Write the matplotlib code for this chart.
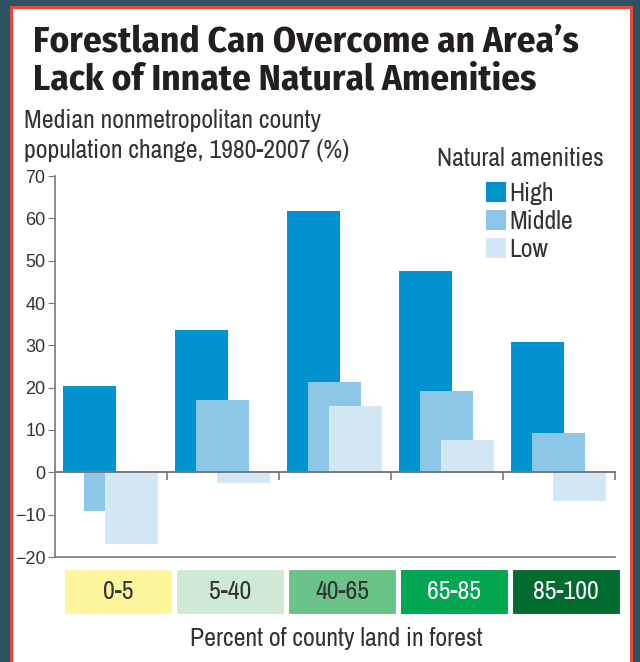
import numpy as np
import matplotlib.pyplot as plt
from matplotlib.patches import Rectangle
from matplotlib import font_manager as fm
import matplotlib.transforms as mtransforms

# Dados
forest_bins = ['0-5', '5-40', '40-65', '65-85', '85-100']
high = [20.4, 33.6, 61.7, 47.6, 30.8]
middle = [-9.1, 17.1, 21.3, 19.2, 9.3]
low = [-16.9, -2.5, 15.7, 7.6, -6.8]
series_names = ['High', 'Middle', 'Low']
bin_colors = ['#fdf59b', '#cfe9d6', '#6bc38a', '#00a650', '#006b2e']
bin_text_colors = ['#333333', '#333333', '#333333', 'white', 'white']
blue_cols = ['#0093d0', '#8dc7e8', '#d3e6f4']

installed = {f.name for f in fm.fontManager.ttflist}


def pick(cands):
    for c in cands:
        if c in installed:
            return [c, 'DejaVu Sans']
    return ['DejaVu Sans']


narrow = pick(['Arial Narrow', 'Liberation Sans Narrow', 'Nimbus Sans Narrow', 'Archivo Narrow',
               'PT Sans Narrow', 'Roboto Condensed', 'Pragati Narrow', 'IBM Plex Sans Condensed',
               'Fira Sans Condensed', 'Open Sans Condensed', 'Encode Sans Condensed'])
title_font = pick(['Fira Sans Condensed', 'PT Sans Narrow', 'Open Sans Condensed', 'Roboto Condensed',
                   'Archivo Narrow', 'Asap Condensed', 'Encode Sans Condensed', 'Liberation Sans Narrow',
                   'Arial Narrow', 'Alegreya Sans'])

fig = plt.figure(figsize=(6.4, 6.62), dpi=100)
fig.patch.set_facecolor('#2e5262')

# painel branco com borda vermelha
panel = Rectangle((11/640, -0.01), 620/640, 1 - 7/662 + 0.01, transform=fig.transFigure,
                  facecolor='white', edgecolor='#e8473b', linewidth=2.2, zorder=-5)
fig.patches.append(panel)

ax = fig.add_axes([55/640, 1 - 557/662, 560/640, 381/662])
ax.set_facecolor('none')
ax.set_xlim(0, 5)
ax.set_ylim(-20, 70)

x = np.arange(len(forest_bins)) + 0.5
w = 53/112
off = 21/112
bars = []
for i, (vals, name) in enumerate(zip([high, middle, low], series_names)):
    b = ax.bar(x + (i - 1) * off - 1/112, vals, width=w, color=blue_cols[i],
               label=name, zorder=2 + i)
    bars.append(b)

# eixos
for s in ['top', 'right']:
    ax.spines[s].set_visible(False)
for s in ['left', 'bottom']:
    ax.spines[s].set_color('#777777')
    ax.spines[s].set_linewidth(1.2)
ax.set_xticks([])
ax.set_yticks(np.arange(-20, 71, 10))
ax.tick_params(axis='y', direction='out', length=5, color='#777777',
               labelsize=13, labelcolor='#333333', pad=2)
for lab in ax.get_yticklabels():
    lab.set_family(['Liberation Sans', 'DejaVu Sans'])

# linha do zero com marcas
zero = ax.secondary_xaxis(20/90)
zero.set_xticks(np.arange(1, 6))
zero.tick_params(direction='out', length=6, color='#777777', labelbottom=False, width=1.2)
zero.spines['bottom'].set_color('#777777')
zero.spines['bottom'].set_linewidth(1.4)
zero.set_zorder(10)

r = fig.canvas.get_renderer()


def fit(t, target):
    bb = t.get_window_extent(r)
    t.set_fontsize(t.get_fontsize() * target / bb.width)
    return t.get_fontsize()


# título
t1 = fig.text(33/640, 1 - 52/662, 'Forestland Can Overcome an Area\u2019s', ha='left', va='baseline',
              fontsize=25, fontweight='bold', color='#231f20', family=title_font)
tsize = fit(t1, 545)
fig.text(33/640, 1 - 90/662, 'Lack of Innate Natural Amenities', ha='left', va='baseline',
         fontsize=tsize, fontweight='bold', color='#231f20', family=title_font)

# rótulo do eixo y
y1 = fig.text(24/640, 1 - 128/662, 'Median nonmetropolitan county', ha='left', va='baseline',
              fontsize=15, color='#333333', family=narrow)
nsize = fit(y1, 298)
fig.text(24/640, 1 - 158/662, 'population change, 1980-2007 (%)', ha='left', va='baseline',
         fontsize=nsize, color='#333333', family=narrow)

# caixas das categorias de floresta
trans = mtransforms.blended_transform_factory(ax.transData, ax.transAxes)
for i, (lab, c, tc) in enumerate(zip(forest_bins, bin_colors, bin_text_colors)):
    ax.add_patch(Rectangle((i + 9/112, -0.1496), 108/112, 0.118, transform=trans,
                           facecolor=c, edgecolor='white', linewidth=0.8, clip_on=False))
    ax.text(i + 9/112 + 54/112, -0.091, lab, transform=trans, ha='center', va='center',
            fontsize=nsize, color=tc, family=narrow)

fig.text(336/640, 1 - 638/662, 'Percent of county land in forest', ha='center', va='center',
         fontsize=nsize, color='#333333', family=narrow)

# legenda
fig.text(520/640, 1 - 158/662, 'Natural amenities', ha='center', va='center',
         fontsize=nsize, color='#333333', family=narrow)
leg = fig.legend(handles=bars, labels=series_names, loc='upper left',
                 bbox_to_anchor=(486/640, 1 - 182/662), frameon=False,
                 prop={'family': narrow, 'size': nsize}, borderpad=0, borderaxespad=0,
                 handlelength=16/21, handleheight=17/21, handletextpad=0.15, labelspacing=0.2)
for t in leg.get_texts():
    t.set_color('#333333')

fig.savefig('out.png', dpi=100, facecolor=fig.get_facecolor())
